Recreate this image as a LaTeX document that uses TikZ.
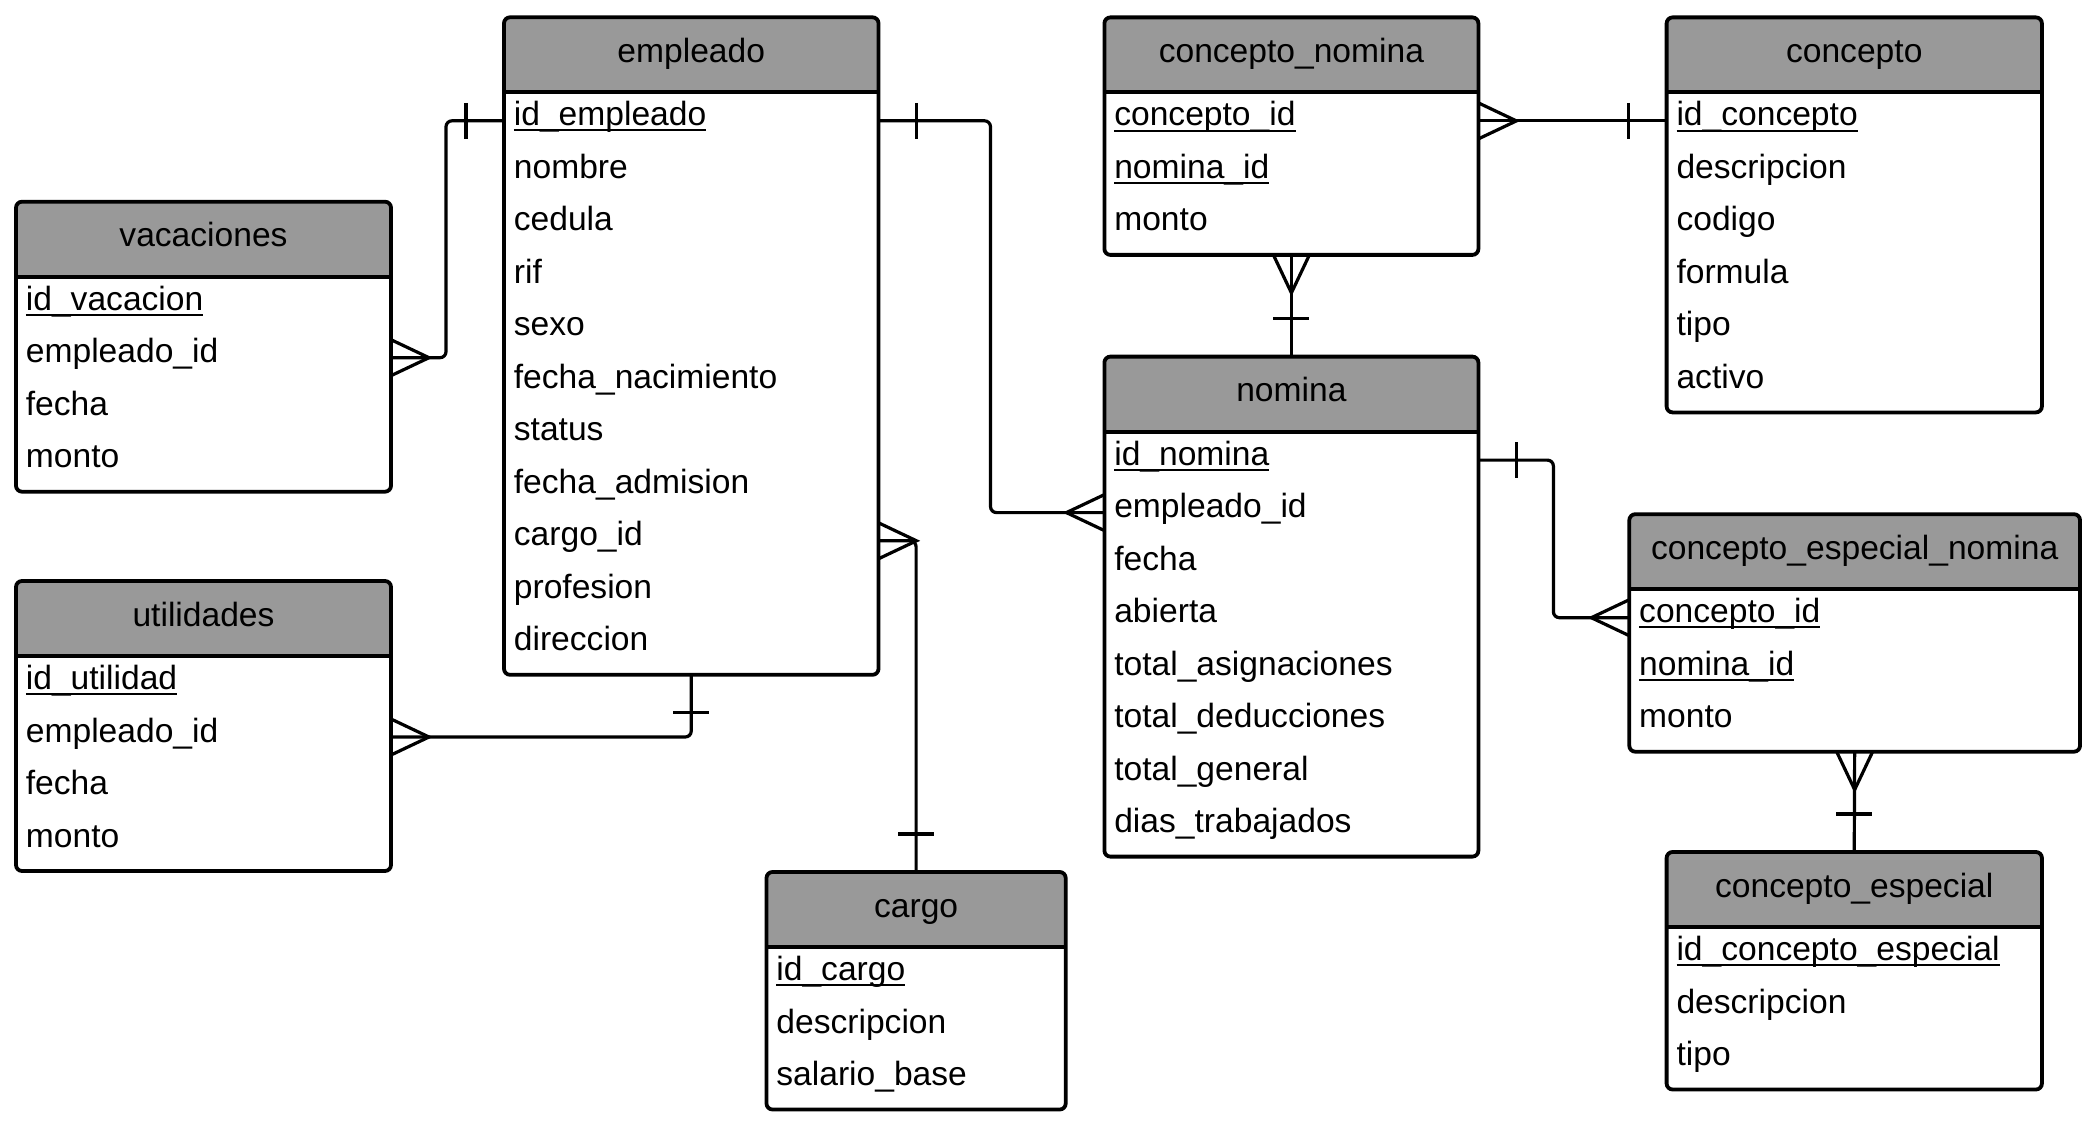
\documentclass[tikz,border=0pt]{standalone}
\usepackage{fontspec}
\setmainfont{Liberation Sans}
\usetikzlibrary{calc,fit}
\definecolor{hdrgray}{RGB}{153,153,153}
\newcommand\keyul[1]{\setbox0\hbox{#1}\rlap{\rule[-2.85pt]{\wd0}{1pt}}\box0}
\tikzset{
 tblbox/.style={draw=black, line width=1.9pt, rounded corners=3pt, inner sep=0pt, outer sep=0pt},
 conn/.style={draw=black, line width=1.6pt, rounded corners=3pt},
 crow/.style={draw=black, line width=1.6pt},
 ttl/.style={font=\fontsize{16.8pt}{20pt}\selectfont, anchor=base, inner sep=0pt},
 fld/.style={font=\fontsize{16.8pt}{20pt}\selectfont, anchor=base west, inner sep=0pt},
}
\newcommand\ertable[6]{%
 \pgfmathsetmacro\ertYb{#3+80+52.5*#5}%
 \pgfmathsetmacro\ertYh{#3+75}%
 \pgfmathsetmacro\ertXc{(#2+#4)/2}%
 \begin{scope}
 \clip[rounded corners=3pt] (#2,#3) rectangle (#4,\ertYb);
 \fill[hdrgray] (#2,#3) rectangle (#4,\ertYh);
 \end{scope}
 \node[tblbox, fit={(#2,#3) (#4,\ertYb)}] (#1) {};
 \draw[line width=1.9pt] (#2,\ertYh) -- (#4,\ertYh);
 \node[ttl] (#1-title) at (\ertXc,#3+45) {#6};
}
\newcommand\erfields[4]{%
 \foreach \fldtext [count=\fldi from 0] in {#4} {
   \node[fld] (#1-\fldi) at (#2+9.5, #3+108.5+52.5*\fldi) {\fldtext};
 }%
}
% ticks and crow's feet
\newcommand\oneH[2]{\draw[crow] ($(#1)+(#2,-18)$) -- ($(#1)+(#2,18)$);}
\newcommand\oneV[2]{\draw[crow] ($(#1)+(-18,#2)$) -- ($(#1)+(18,#2)$);}
\newcommand\manyH[2]{\draw[crow] ($(#1)+(0,-18)$) -- ($(#1)+(#2,0)$) -- ($(#1)+(0,18)$);}
\newcommand\manyV[2]{\draw[crow] ($(#1)+(-18,0)$) -- ($(#1)+(0,#2)$) -- ($(#1)+(18,0)$);}
\begin{document}
\begin{tikzpicture}[x=0.5pt,y=-0.5pt]
\fill[white] (0,0) rectangle (2094,1123);
\useasboundingbox (0,0) rectangle (2094,1123);

\ertable{emp}{504}{17.3}{878.5}{11}{empleado}
\erfields{emp}{504}{17.3}{{\keyul{id\_empleado}},nombre,cedula,rif,sexo,{fecha\_nacimiento},status,{fecha\_admision},{cargo\_id},profesion,direccion}

\ertable{vac}{16}{201.7}{391}{4}{vacaciones}
\erfields{vac}{16}{201.7}{{\keyul{id\_vacacion}},{empleado\_id},fecha,monto}

\ertable{uti}{16}{581}{391}{4}{utilidades}
\erfields{uti}{16}{581}{{\keyul{id\_utilidad}},{empleado\_id},fecha,monto}

\ertable{car}{766.5}{872}{1065.7}{3}{cargo}
\erfields{car}{766.5}{872}{{\keyul{id\_cargo}},descripcion,{salario\_base}}

\ertable{cn}{1104.4}{17.4}{1478.4}{3}{concepto\_nomina}
\erfields{cn}{1104.4}{17.4}{{\keyul{concepto\_id}},{\keyul{nomina\_id}},monto}

\ertable{con}{1666.6}{17.4}{2041.9}{6}{concepto}
\erfields{con}{1666.6}{17.4}{{\keyul{id\_concepto}},descripcion,codigo,formula,tipo,activo}

\ertable{nom}{1104.4}{356.6}{1478.4}{8}{nomina}
\erfields{nom}{1104.4}{356.6}{{\keyul{id\_nomina}},{empleado\_id},fecha,abierta,{total\_asignaciones},{total\_deducciones},{total\_general},{dias\_trabajados}}

\ertable{cen}{1629.3}{514.2}{2080}{3}{concepto\_especial\_nomina}
\erfields{cen}{1629.3}{514.2}{{\keyul{concepto\_id}},{\keyul{nomina\_id}},monto}

\ertable{ce}{1666.6}{852}{2041.9}{3}{concepto\_especial}
\erfields{ce}{1666.6}{852}{{\keyul{id\_concepto\_especial}},descripcion,tipo}

% attachment points
\coordinate (eL0) at ($(emp.north west)+(0,103.5)$);
\coordinate (eR0) at ($(emp.north east)+(0,103.5)$);
\coordinate (eR8) at ($(emp.north east)+(0,523.5)$);
\coordinate (vR1) at ($(vac.north east)+(0,156)$);
\coordinate (uR1) at ($(uti.north east)+(0,156)$);
\coordinate (nL1) at ($(nom.north west)+(0,156)$);
\coordinate (nR0) at ($(nom.north east)+(0,103.5)$);
\coordinate (cnR0) at ($(cn.north east)+(0,103.5)$);
\coordinate (cL0) at ($(con.north west)+(0,103.5)$);
\coordinate (cenL0) at ($(cen.north west)+(0,103.5)$);

% empleado - vacaciones
\draw[conn] (eL0) -- ++(-58,0) |- (vR1);
\oneH{eL0}{-38}
\manyH{vR1}{38}
% empleado - utilidades
\draw[conn] (emp.south) |- (uR1);
\oneV{emp.south}{38}
\manyH{uR1}{38}
% empleado - cargo
\draw[conn] (eR8) -| (car.north);
\manyH{eR8}{38}
\oneV{car.north}{-38}
% empleado - nomina
\draw[conn] (eR0) -- ++(112,0) |- (nL1);
\oneH{eR0}{38}
\manyH{nL1}{-38}
% concepto_nomina - concepto
\draw[conn] (cnR0) -- (cL0);
\manyH{cnR0}{38}
\oneH{cL0}{-38}
% concepto_nomina - nomina
\draw[conn] (cn.south) -- (nom.north);
\manyV{cn.south}{38}
\oneV{nom.north}{-38}
% nomina - concepto_especial_nomina
\draw[conn] (nR0) -- ++(75,0) |- (cenL0);
\oneH{nR0}{38}
\manyH{cenL0}{-38}
% concepto_especial_nomina - concepto_especial
\draw[conn] (cen.south) -- (ce.north);
\manyV{cen.south}{38}
\oneV{ce.north}{-38}
\end{tikzpicture}
\end{document}
